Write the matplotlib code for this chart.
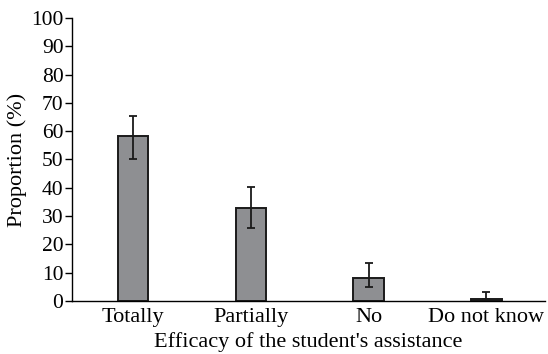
import numpy as np
import matplotlib
matplotlib.use("Agg")
from matplotlib import pyplot as plt

# values
categories = ["Totally", "Partially", "No", "Do not know"]
proportion = [58.2, 32.9, 8.2, 0.7]
err_low = [8.0, 7.1, 3.4, 0.0]
err_high = [7.2, 7.4, 5.1, 2.4]

plt.rcParams['font.family'] = ['Liberation Serif', 'DejaVu Serif']

fig = plt.figure(figsize=(5.48, 3.54), dpi=100)
ax = fig.add_axes([0.131, 0.150, 0.864, 0.799])

x = np.arange(len(categories))
ax.bar(x, proportion, width=0.26, color="#8e8f92", edgecolor="#1a1a1a", linewidth=1.4,
       yerr=[err_low, err_high], capsize=3,
       error_kw=dict(ecolor="#1a1a1a", elinewidth=1.3, capthick=1.3))

ax.set_xlim(-0.52, 3.5)
ax.set_ylim(0, 100)
ax.set_yticks(np.arange(0, 101, 10))
ax.set_xticks(x)
ax.set_xticklabels(categories)
ax.tick_params(axis="x", length=0, labelsize=16, pad=5)
ax.tick_params(axis="y", length=5, width=1, labelsize=15.5, pad=1)

for s in ["top", "right"]:
    ax.spines[s].set_visible(False)
for s in ["left", "bottom"]:
    ax.spines[s].set_linewidth(1.0)

ax.set_xlabel("Efficacy of the student's assistance", fontsize=16, labelpad=4)
ax.set_ylabel("Proportion (%)", fontsize=16, labelpad=3)

fig.savefig("out.png", dpi=100)
